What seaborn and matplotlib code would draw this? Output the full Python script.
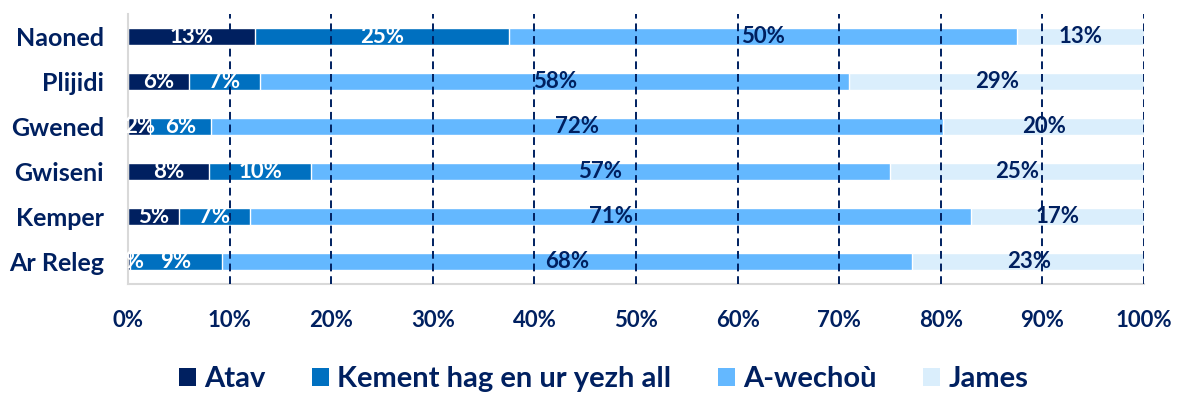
import matplotlib
matplotlib.use("Agg")
import matplotlib.pyplot as plt
from matplotlib.patches import Patch
import numpy as np
import pandas as pd
import seaborn as sns

# Share of answers per town (percent)
towns = ["Naoned", "Plijidi", "Gwened", "Gwiseni", "Kemper", "Ar Releg"]
series = ["Atav", "Kement hag en ur yezh all", "A-wechoù", "James"]
atav = [12.5, 6, 2.2, 8, 5, 0.2]
kement = [25, 7, 6, 10, 7, 9]
awechou = [50, 58, 72, 57, 71, 68]
james = [12.5, 29, 20, 25, 17, 23]

colors = ["#002060", "#0070C0", "#64B8FF", "#DAEEFC"]
label_colors = ["white", "white", "#002060", "#002060"]
navy = "#002060"

sns.set_theme(style="white")
plt.rcParams["font.family"] = ["Lato", "DejaVu Sans"]
plt.rcParams["font.weight"] = "bold"

values = np.array([atav, kement, awechou, james], dtype=float)
cum = np.cumsum(values, axis=0)

fig = plt.figure(figsize=(11.77, 3.93), dpi=100)
ax = fig.add_axes([0.1088, 0.2774, 0.8632, 0.687])

# Stacked bars: draw the cumulative totals from the outermost segment inwards
for i in range(len(series) - 1, -1, -1):
    df = pd.DataFrame({"town": towns, "value": cum[i]})
    sns.barplot(data=df, x="value", y="town", orient="h", color=colors[i],
                width=0.38, saturation=1, ax=ax, zorder=2)

# Segment labels
for i in range(len(series)):
    for j, town in enumerate(towns):
        v = values[i, j]
        centre = cum[i, j] - v / 2
        ax.text(centre, j, f"{int(v + 0.5)}%", ha="center", va="center",
                color=label_colors[i], fontsize=16, fontweight="bold", zorder=4)

ax.set_xlim(0, 100)
ax.set_ylim(5.5, -0.5)
ax.set_xticks(np.arange(0, 101, 10))
ax.set_xticklabels([f"{t}%" for t in range(0, 101, 10)])
ax.set_xlabel("")
ax.set_ylabel("")

for x in np.arange(10, 101, 10):
    ax.axvline(x, color=navy, linestyle=(0, (4, 2.5)), linewidth=1.4, zorder=3)

ax.tick_params(axis="x", colors=navy, labelsize=16, pad=19, length=0)
ax.tick_params(axis="y", colors=navy, labelsize=18, pad=17.5, length=0)
for lab in ax.get_xticklabels() + ax.get_yticklabels():
    lab.set_fontweight("bold")
    lab.set_color(navy)

for side in ["top", "right"]:
    ax.spines[side].set_visible(False)
for side in ["left", "bottom"]:
    ax.spines[side].set_color("#D9D9D9")
    ax.spines[side].set_linewidth(1.5)

handles = [Patch(facecolor=c, edgecolor="none") for c in colors]
leg = fig.legend(handles, series, loc="center", bbox_to_anchor=(0.513, 0.035),
                 ncol=4, frameon=False, handlelength=0.56, handleheight=0.6,
                 handletextpad=0.3, columnspacing=1.6,
                 prop={"size": 21, "weight": "bold"})
for t in leg.get_texts():
    t.set_color(navy)

fig.savefig("out.png", dpi=100)
